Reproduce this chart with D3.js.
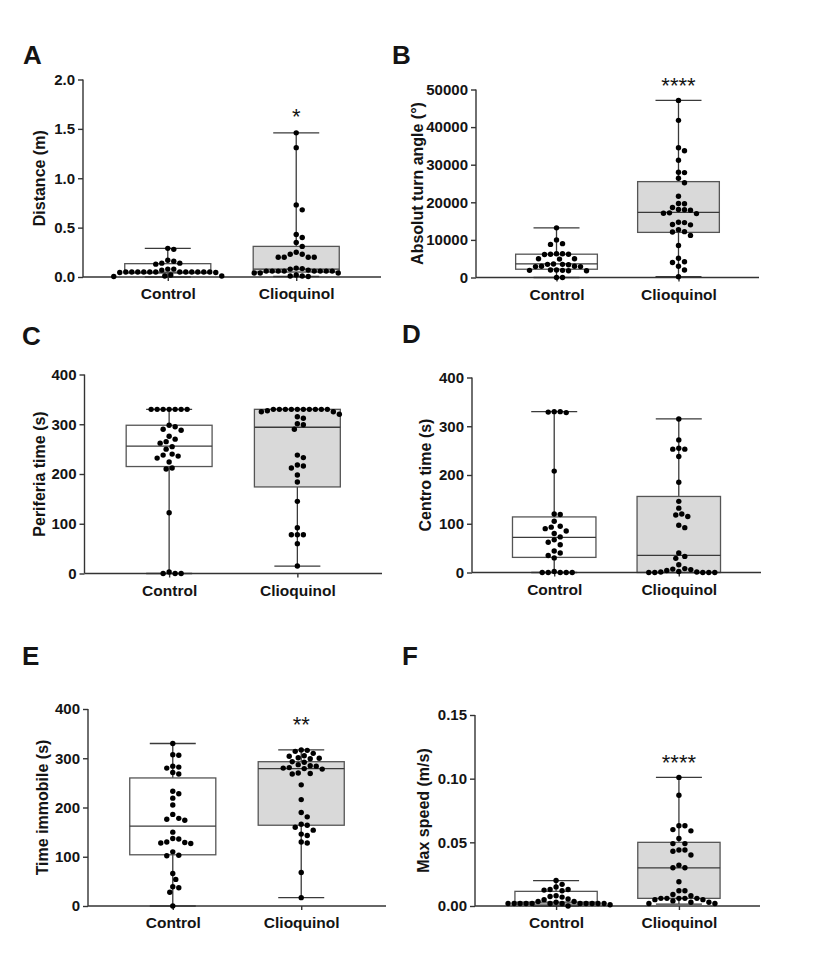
<!DOCTYPE html>
<html><head><meta charset="utf-8">
<script src="https://cdn.jsdelivr.net/npm/d3@7"></script>
<style>
html,body{margin:0;padding:0;background:#fff;}
svg text{font-family:"Liberation Sans",Arial,sans-serif;font-weight:bold;fill:#141414;}
</style></head>
<body>
<svg id="c" width="821" height="962"></svg>
<script>
// ---------- DATA ----------
const groups = ["Control", "Clioquinol"];
const panelLetters = ["A","B","C","D","E","F"];
const yTitles = ["Distance (m)", "Absolut turn angle (°)", "Periferia time (s)", "Centro time (s)", "Time immobile (s)", "Max speed (m/s)"];
const stars = ["*", "****", "", "", "**", "****"];

const distTicks = [0, 0.5, 1.0, 1.5, 2.0];
const turnTicks = [0, 10000, 20000, 30000, 40000, 50000];
const timeTicks = [0, 100, 200, 300, 400];
const speedTicks = [0, 0.05, 0.10, 0.15];

// box stats: [min, q1, median, q3, max] for Control, Clioquinol
const distBoxes = [[0.0, 0.04, 0.05, 0.135, 0.29], [0.005, 0.05, 0.08, 0.31, 1.46]];
const distControl = [0.29,0.28,0.17,0.16,0.14,0.14,0.13,0.08,0.08,0.07,0.05,0.05,0.05,0.05,0.05,0.05,0.05,0.05,0.05,0.05,0.05,0.05,0.045,0.045,0.02,0.01,0.01,0.005];
const distClio = [1.46,1.31,0.73,0.68,0.43,0.40,0.35,0.31,0.25,0.23,0.23,0.20,0.20,0.20,0.20,0.09,0.085,0.08,0.07,0.06,0.06,0.06,0.06,0.06,0.06,0.06,0.06,0.04,0.04,0.04,0.02,0.01,0.01,0.005];

const turnBoxes = [[0, 2200, 3600, 6200, 13200], [200, 12000, 17300, 25500, 47100]];
const turnControl = [13200,10000,9000,8800,6300,6300,6200,6200,6100,5000,5000,4900,3600,3500,3500,3400,3000,3000,2900,2900,2000,2000,1900,1900,1800,1800,0,0];
const turnClio = [47100,41800,34500,33700,31200,28000,27900,26400,25200,21600,19700,19600,18600,18100,18000,17900,17200,17100,17000,14700,14600,14100,14000,12700,12200,12100,11200,8500,5100,4200,4000,3000,2000,200];

const perifBoxes = [[0, 215, 256, 298, 330], [15, 174, 294, 330, 330]];
const perifControl = [330,330,330,330,330,330,330,298,295,290,288,276,270,265,262,255,250,240,238,236,232,224,212,210,122,3,0,0,0];
const perifClio = [330,330,330,330,330,330,330,330,330,330,327,325,325,320,315,312,301,299,290,238,233,218,216,212,198,184,145,92,78,78,78,60,15];

const centroBoxes = [[0, 31, 72, 114, 330], [0, 0, 35, 156, 315]];
const centroControl = [330,330,329,328,208,120,119,105,95,93,90,85,80,73,67,62,57,44,40,35,30,2,0,0,0,0,0];
const centroClio = [315,272,255,253,253,238,185,146,132,120,118,115,97,92,40,33,29,16,8,7,6,4,2,1,1,0,0,0,0,0];

const immobBoxes = [[0, 104, 162, 260, 330], [17, 164, 279, 293, 317]];
const immobControl = [330,307,306,284,282,280,271,268,233,228,219,205,186,178,176,174,150,137,136,130,129,128,127,110,103,102,66,54,39,37,28,0];
const immobClio = [317,316,314,310,305,304,301,300,299,293,292,287,285,284,281,280,279,278,270,269,268,246,216,190,181,166,164,160,154,146,143,130,128,68,17];

const speedBoxes = [[0, 0.0015, 0.003, 0.0115, 0.020], [0.0015, 0.006, 0.030, 0.050, 0.101]];
const speedControl = [0.020,0.017,0.015,0.013,0.013,0.0125,0.012,0.008,0.0075,0.007,0.0055,0.005,0.0035,0.0035,0.003,0.002,0.002,0.002,0.002,0.002,0.002,0.002,0.002,0.002,0.002,0.002,0.002,0.001,0];
const speedClio = [0.101,0.087,0.063,0.063,0.060,0.059,0.053,0.049,0.049,0.044,0.044,0.043,0.040,0.032,0.030,0.030,0.019,0.012,0.012,0.009,0.008,0.006,0.006,0.006,0.006,0.006,0.005,0.005,0.004,0.003,0.003,0.002,0.002];

// ---------- LAYOUT ----------
const panels = [
  {ticks: distTicks, fmt: d3.format(".1f"), boxes: distBoxes, pts: [distControl, distClio],
   x0: 83, x1: 381, yT: 79.5, yB: 277, lx: 39, letter: [23, 64], star: 124},
  {ticks: turnTicks, fmt: d3.format("d"), boxes: turnBoxes, pts: [turnControl, turnClio],
   x0: 476, x1: 759, yT: 89.5, yB: 277.5, lx: 417, letter: [392, 64], star: 93},
  {ticks: timeTicks, fmt: d3.format("d"), boxes: perifBoxes, pts: [perifControl, perifClio],
   x0: 84.5, x1: 382, yT: 374.5, yB: 573.5, lx: 39, letter: [22, 345], star: 0},
  {ticks: timeTicks, fmt: d3.format("d"), boxes: centroBoxes, pts: [centroControl, centroClio],
   x0: 472, x1: 761, yT: 377.5, yB: 572.5, lx: 425, letter: [402, 343], star: 0},
  {ticks: timeTicks, fmt: d3.format("d"), boxes: immobBoxes, pts: [immobControl, immobClio],
   x0: 88, x1: 386, yT: 709, yB: 906, lx: 42, letter: [22, 665], star: 732},
  {ticks: speedTicks, fmt: d3.format(".2f"), boxes: speedBoxes, pts: [speedControl, speedClio],
   x0: 475, x1: 760, yT: 715, yB: 906, lx: 423, letter: [402, 665], star: 770}
];

const svg = d3.select("#c");
const fills = ["#ffffff", "#d9d9d9"];
const R = 2.7, SEP = 6.0;

function swarm(vals, y, cx) {
  const items = vals.map(v => ({v, y: y(v)})).sort((a, b) => b.v - a.v);
  const placed = [];
  const cands = [0];
  for (let k = 1; k < 40; k++) { cands.push(k * SEP / 2, -k * SEP / 2); }
  items.forEach(it => {
    for (const off of cands) {
      const x = cx + off;
      if (placed.every(p => (p.x - x) ** 2 + (p.y - it.y) ** 2 >= SEP * SEP)) {
        it.x = x; placed.push(it); break;
      }
    }
  });
  return placed;
}

panels.forEach((p, i) => {
  const g = svg.append("g");
  const x = d3.scalePoint().domain(groups).range([p.x0, p.x1]).padding(0.66);
  const y = d3.scaleLinear().domain([p.ticks[0], p.ticks[p.ticks.length - 1]]).range([p.yB, p.yT]);
  const bw = x.step() * 0.67, cap = 46;

  // boxes and whiskers
  p.boxes.forEach((b, gi) => {
    const cx = x(groups[gi]);
    const [mn, q1, md, q3, mx] = b;
    const bg = g.append("g").attr("stroke", "#3a3a3a").attr("stroke-width", 1.3).attr("fill", "none");
    bg.append("line").attr("x1", cx).attr("x2", cx).attr("y1", y(mn)).attr("y2", y(q1));
    bg.append("line").attr("x1", cx).attr("x2", cx).attr("y1", y(q3)).attr("y2", y(mx));
    bg.append("line").attr("x1", cx - cap / 2).attr("x2", cx + cap / 2).attr("y1", y(mx)).attr("y2", y(mx));
    bg.append("line").attr("x1", cx - cap / 2).attr("x2", cx + cap / 2).attr("y1", y(mn)).attr("y2", y(mn));
    bg.append("rect").attr("x", cx - bw / 2).attr("width", bw)
      .attr("y", y(q3)).attr("height", Math.max(0.5, y(q1) - y(q3)))
      .attr("fill", fills[gi]).attr("stroke", "#555");
    bg.append("line").attr("x1", cx - bw / 2).attr("x2", cx + bw / 2).attr("y1", y(md)).attr("y2", y(md));
  });

  // axes
  const ya = g.append("g").attr("transform", `translate(${p.x0},0)`)
    .call(d3.axisLeft(y).tickValues(p.ticks).tickFormat(p.fmt).tickSize(5).tickPadding(3));
  const xa = g.append("g").attr("transform", `translate(0,${p.yB})`)
    .call(d3.axisBottom(x).tickSize(4).tickPadding(7));
  [ya, xa].forEach(a => {
    a.select(".domain").attr("stroke", "#333").attr("stroke-width", 1.4);
    a.selectAll(".tick line").attr("stroke", "#333").attr("stroke-width", 1.4);
    a.selectAll("text").attr("fill", "#141414").style("font-family", '"Liberation Sans",Arial,sans-serif')
      .style("font-weight", "bold").style("font-size", "15px");
  });
  xa.selectAll("text").style("font-size", "15.5px");
  ya.select(".domain").attr("d", `M-0,${p.yT}V${p.yB}`);
  xa.select(".domain").attr("d", `M${p.x0},0H${p.x1}`);

  // points
  p.pts.forEach((vals, gi) => {
    const pl = swarm(vals, y, x(groups[gi]));
    g.append("g").selectAll("circle").data(pl).join("circle")
      .attr("cx", d => d.x).attr("cy", d => d.y).attr("r", R).attr("fill", "#000");
  });

  // y title
  g.append("text").attr("transform", `translate(${p.lx},${(p.yT + p.yB) / 2}) rotate(-90)`)
    .attr("text-anchor", "middle").attr("dominant-baseline", "central")
    .style("font-size", "16px").text(yTitles[i]);

  // letter
  g.append("text").attr("x", p.letter[0]).attr("y", p.letter[1]).style("font-size", "26px").text(panelLetters[i]);

  // stars
  if (stars[i]) {
    g.append("text").attr("x", x("Clioquinol")).attr("y", p.star).attr("text-anchor", "middle")
      .style("font-size", "22px").style("font-weight", "normal").text(stars[i]);
  }
});
</script>
</body></html>
